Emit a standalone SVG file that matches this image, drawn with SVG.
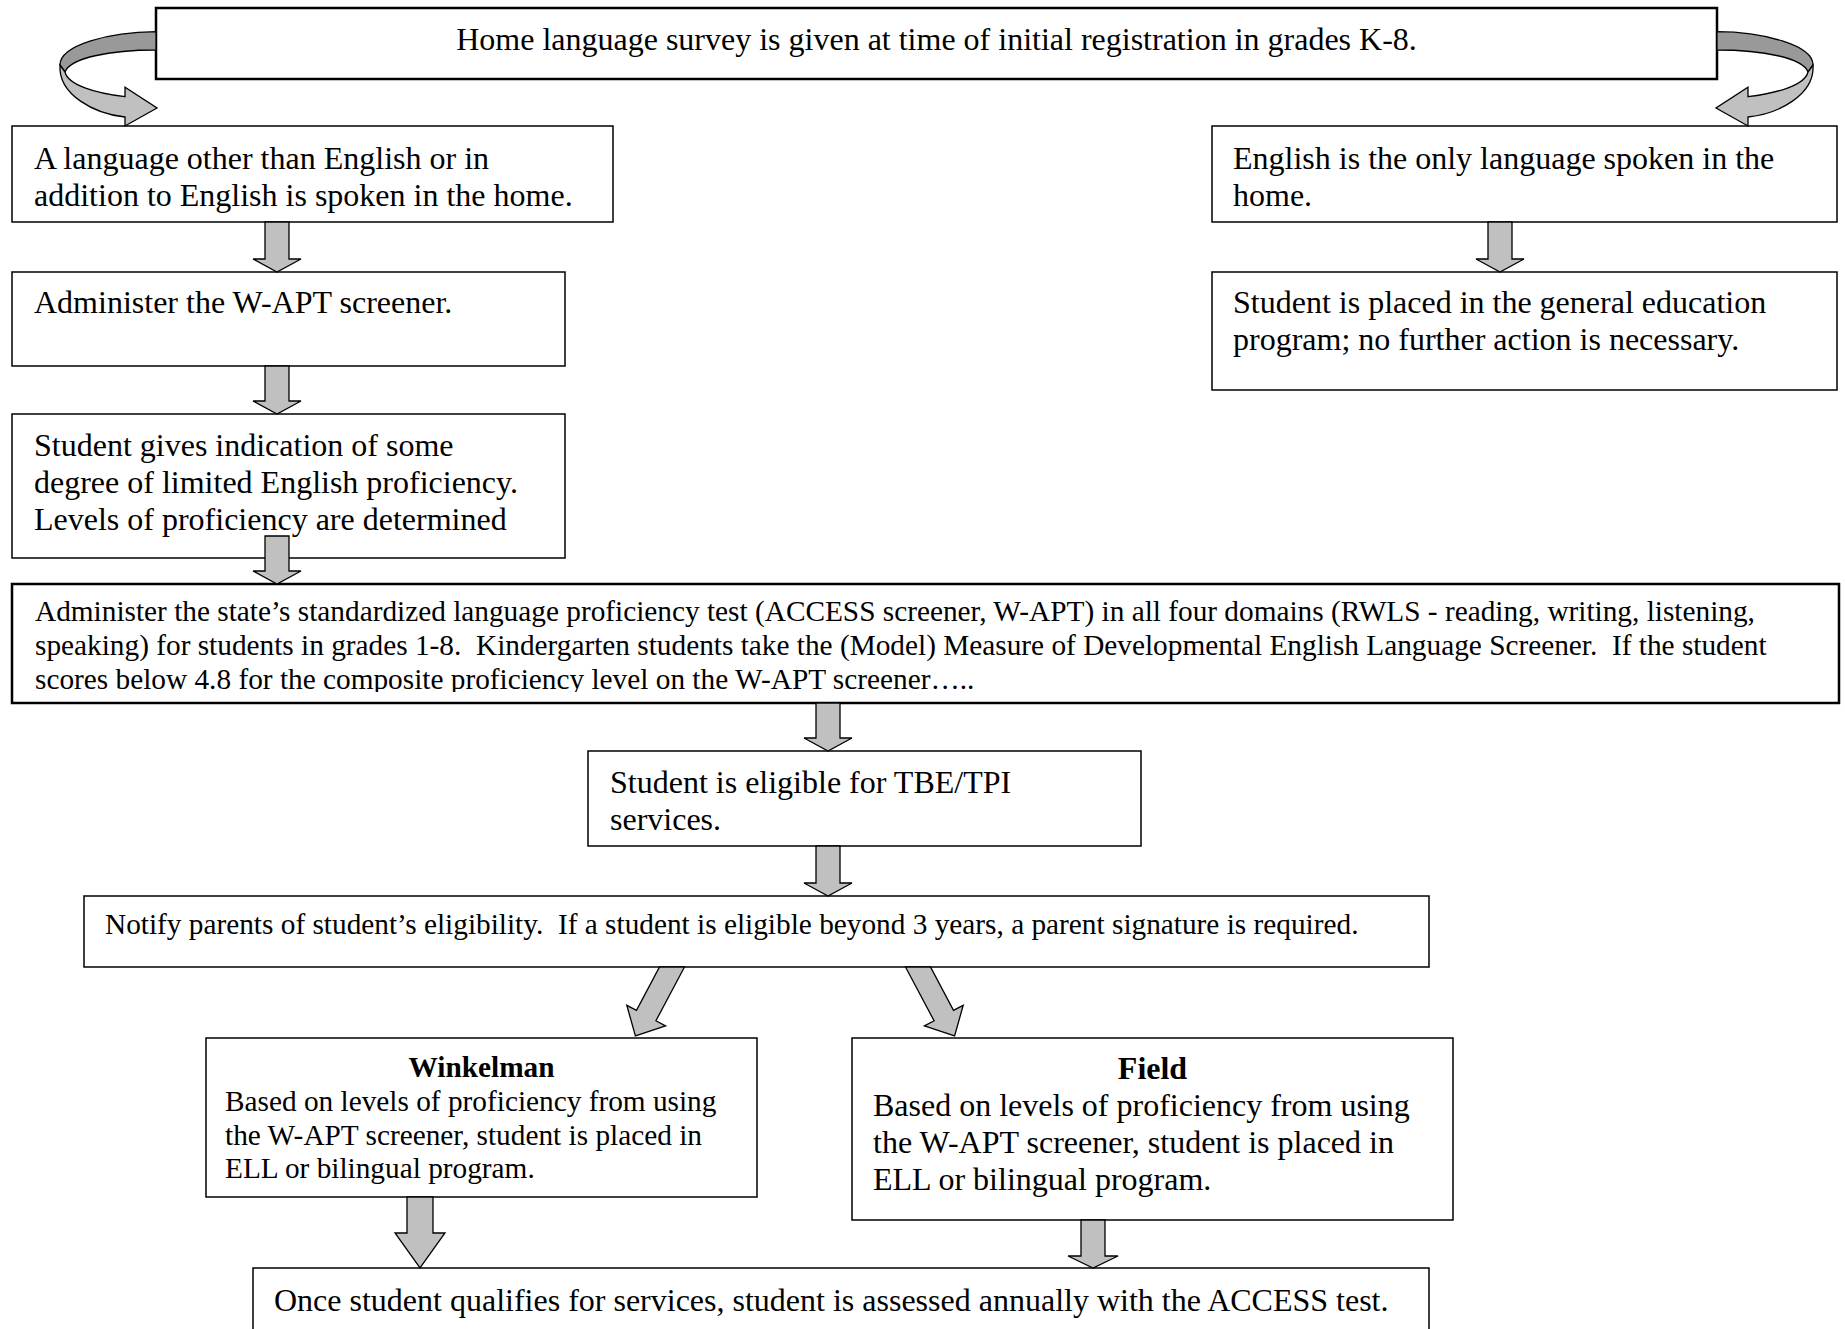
<svg xmlns="http://www.w3.org/2000/svg" width="1845" height="1329" viewBox="0 0 1845 1329">
<style>
.box{fill:#fff;stroke:#000;stroke-width:1.5}
.thick{stroke-width:2.5}
.t{font-family:"Liberation Serif","Times New Roman",serif;font-size:32px;fill:#000}
.s{font-size:29.3px}
.b{font-weight:bold}
.arr{fill:#c0c0c0;stroke:#000;stroke-width:1.3;stroke-linejoin:miter}
.dark{fill:#999;stroke:#000;stroke-width:1.3;stroke-linejoin:round}
</style>
<defs>
<clipPath id="accClip"><rect x="12" y="584" width="1827" height="108"/></clipPath>
<g id="curl">
<path class="dark" d="M156,31.7 C110,32 60,45 60,65 L65,72 C70,58 110,50 156,50 Z"/>
<path class="arr" d="M60,65 C58,95 95,114 125,117 L125,126 L157,108 L125,87.3 L125,96.7 C95,93 68,85 65,72 Z"/>
</g>
</defs>
<rect width="1845" height="1329" fill="#fff"/>

<g id="node-survey">
<rect class="box thick" x="156" y="8" width="1561" height="71"/>
<text class="t" x="936.5" y="49.5" text-anchor="middle">Home language survey is given at time of initial registration in grades K-8.</text>
</g>

<g id="node-other-language">
<rect class="box" x="12" y="126" width="601" height="96"/>
<text class="t" x="34" y="168.5">A language other than English or in</text>
<text class="t" x="34" y="205.5">addition to English is spoken in the home.</text>
</g>

<g id="node-english-only">
<rect class="box" x="1212" y="126" width="625" height="96"/>
<text class="t" x="1233" y="168.5">English is the only language spoken in the</text>
<text class="t" x="1233" y="205.5">home.</text>
</g>

<g id="node-wapt">
<rect class="box" x="12" y="272" width="553" height="94"/>
<text class="t" x="34" y="313">Administer the W-APT screener.</text>
</g>

<g id="node-general-ed">
<rect class="box" x="1212" y="272" width="625" height="118"/>
<text class="t" x="1233" y="313">Student is placed in the general education</text>
<text class="t" x="1233" y="350">program; no further action is necessary.</text>
</g>

<g id="node-limited">
<rect class="box" x="12" y="414" width="553" height="144"/>
<text class="t" x="34" y="456">Student gives indication of some</text>
<text class="t" x="34" y="493">degree of limited English proficiency.</text>
<text class="t" x="34" y="530">Levels of proficiency are determined</text>
</g>

<g id="node-access">
<rect class="box thick" x="12" y="584" width="1827" height="119"/>
<g clip-path="url(#accClip)">
<text class="t s" x="35" y="621" xml:space="preserve">Administer the state’s standardized language proficiency test (ACCESS screener, W-APT) in all four domains (RWLS - reading, writing, listening,</text>
<text class="t s" x="35" y="655" xml:space="preserve">speaking) for students in grades 1-8.  Kindergarten students take the (Model) Measure of Developmental English Language Screener.  If the student</text>
<text class="t s" x="35" y="689" xml:space="preserve">scores below 4.8 for the composite proficiency level on the W-APT screener…..</text>
</g>
</g>

<g id="node-eligible">
<rect class="box" x="588" y="751" width="553" height="95"/>
<text class="t" x="610" y="793">Student is eligible for TBE/TPI</text>
<text class="t" x="610" y="830">services.</text>
</g>

<g id="node-notify">
<rect class="box" x="84" y="896" width="1345" height="71"/>
<text class="t s" x="105" y="933.5" xml:space="preserve">Notify parents of student’s eligibility.  If a student is eligible beyond 3 years, a parent signature is required.</text>
</g>

<g id="node-winkelman">
<rect class="box" x="206" y="1038" width="551" height="159"/>
<text class="t s b" x="481.5" y="1076.5" text-anchor="middle">Winkelman</text>
<text class="t s" x="225" y="1111">Based on levels of proficiency from using</text>
<text class="t s" x="225" y="1144.5">the W-APT screener, student is placed in</text>
<text class="t s" x="225" y="1178">ELL or bilingual program.</text>
</g>

<g id="node-field">
<rect class="box" x="852" y="1038" width="601" height="182"/>
<text class="t b" x="1152.5" y="1079" text-anchor="middle">Field</text>
<text class="t" x="873" y="1116">Based on levels of proficiency from using</text>
<text class="t" x="873" y="1153">the W-APT screener, student is placed in</text>
<text class="t" x="873" y="1190">ELL or bilingual program.</text>
</g>

<g id="node-annual">
<rect class="box" x="253" y="1268" width="1176" height="110"/>
<text class="t" x="274" y="1310.5">Once student qualifies for services, student is assessed annually with the ACCESS test.</text>
</g>

<g id="connectors">
<use href="#curl"/>
<use href="#curl" transform="matrix(-1 0 0 1 1873 0)"/>
<path class="arr" d="M265,222 L289,222 L289,259 L301,259 L277,272 L253,259 L265,259 Z"/>
<path class="arr" d="M265,366 L289,366 L289,401 L301,401 L277,414 L253,401 L265,401 Z"/>
<path class="arr" d="M265,536 L289,536 L289,571 L301,571 L277,584 L253,571 L265,571 Z"/>
<path class="arr" d="M1488,222 L1512,222 L1512,259 L1524,259 L1500,272 L1476,259 L1488,259 Z"/>
<path class="arr" d="M816,703 L840,703 L840,738 L852,738 L828,751 L804,738 L816,738 Z"/>
<path class="arr" d="M816,846 L840,846 L840,883 L852,883 L828,896 L804,883 L816,883 Z"/>
<path class="arr" d="M659.5,967 L684.5,967 L655.9,1020.8 L665.6,1025.9 L635.4,1035.9 L626.8,1005.3 L636.5,1010.4 Z"/>
<path class="arr" d="M905.5,967 L930.5,967 L953.5,1010.4 L963.2,1005.3 L954.6,1035.9 L924.4,1025.9 L934.1,1020.8 Z"/>
<path class="arr" d="M407,1197 L433,1197 L433,1233 L445,1233 L420,1268 L395,1233 L407,1233 Z"/>
<path class="arr" d="M1081,1220 L1105,1220 L1105,1256 L1118,1256 L1093,1268 L1068,1256 L1081,1256 Z"/>
</g>
</svg>
